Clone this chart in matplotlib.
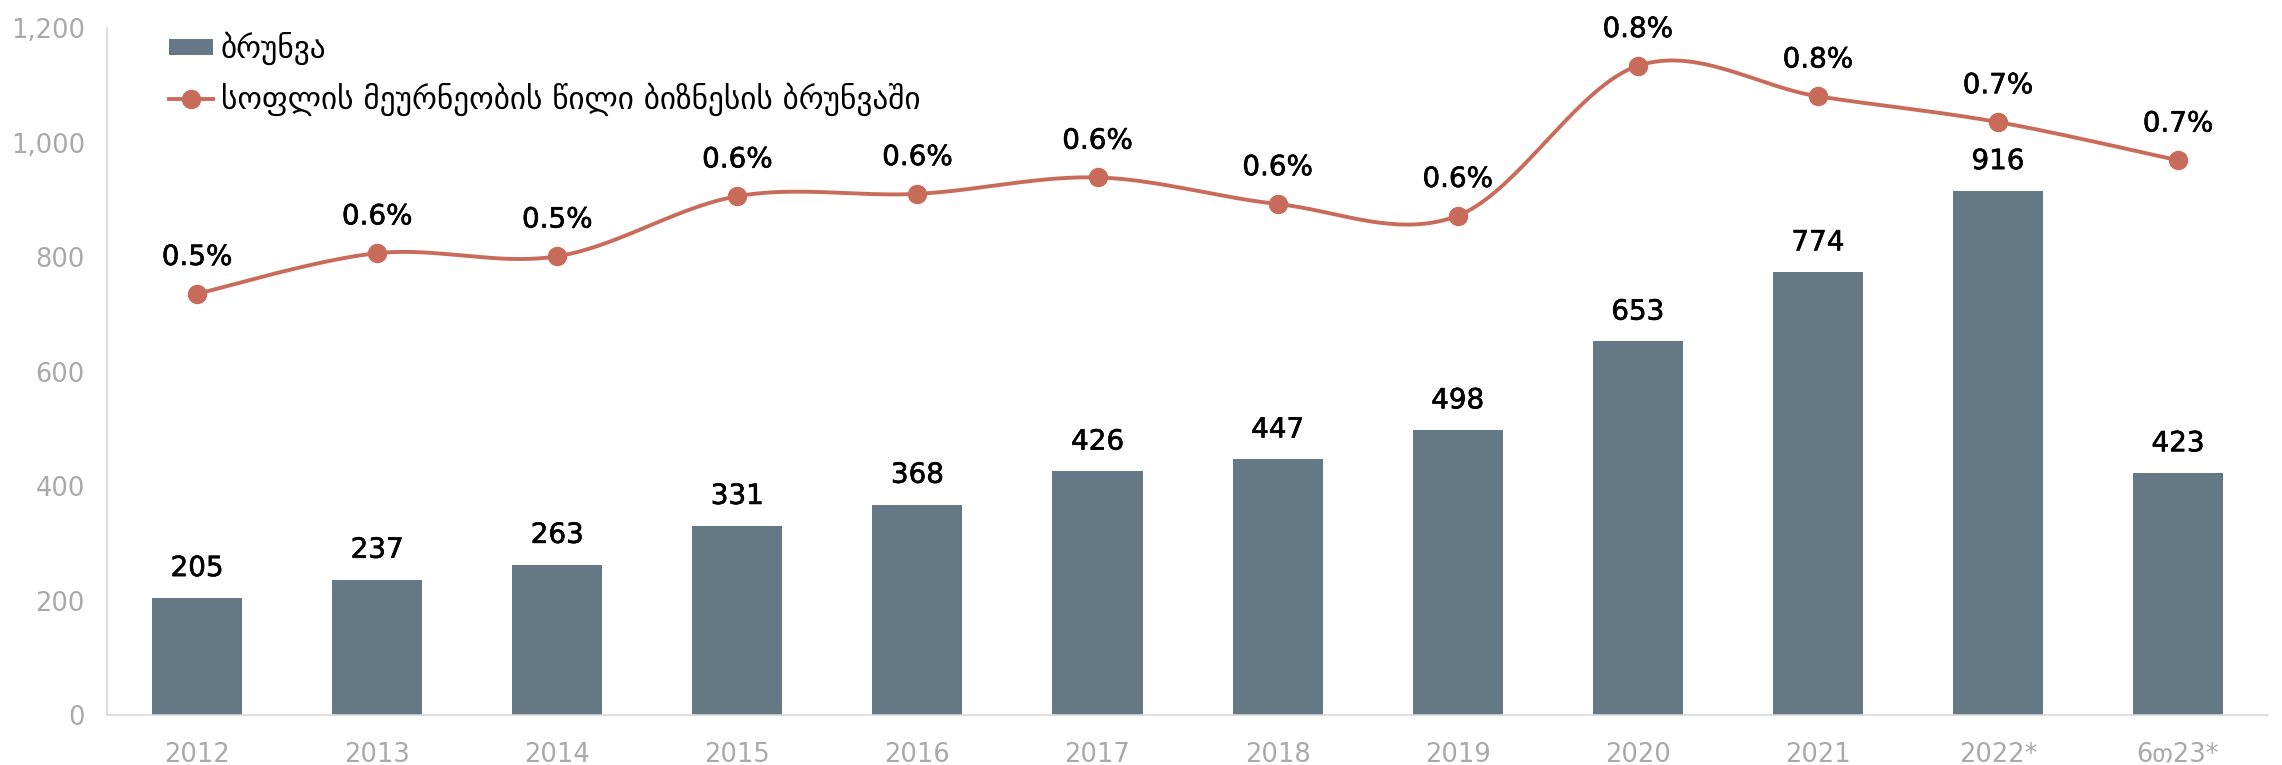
import numpy as np
import matplotlib
matplotlib.use("Agg")
import matplotlib.pyplot as plt
import matplotlib.patheffects as pe
from matplotlib.lines import Line2D
from matplotlib.patches import Patch

# ---- data ----
years = ["2012", "2013", "2014", "2015", "2016", "2017", "2018", "2019",
         "2020", "2021", "2022*", "6თ23*"]
turnover = [205, 237, 263, 331, 368, 426, 447, 498, 653, 774, 916, 423]
share_pct = [0.500, 0.552, 0.548, 0.625, 0.628, 0.649, 0.615, 0.600,
             0.792, 0.753, 0.720, 0.671]
bar_label = "ბრუნვა"
line_label = "სოფლის მეურნეობის წილი ბიზნესის ბრუნვაში"
y_ticks = [0, 200, 400, 600, 800, 1000, 1200]

# ---- style ----
BAR_C = "#647885"
LINE_C = "#C96B5A"
TICK_C = "#A9A9A9"
SPINE_C = "#D9D9D9"
FONT = ["DejaVu Sans"]
MEDIUM = [pe.withStroke(linewidth=0.45, foreground="black")]

fig = plt.figure(figsize=(22.82, 7.65), dpi=100)
ax = fig.add_axes([0.0469, 0.0650, 0.9470, 0.8979])
x = np.arange(len(years))

ax.bar(x, turnover, width=0.5, color=BAR_C, zorder=2)
ax.set_xlim(-0.5, len(years) - 0.5)
ax.set_ylim(0, 1200)
ax.set_yticks(y_ticks)
ax.set_yticklabels([f"{v:,}" for v in y_ticks])
ax.set_xticks(x)
ax.set_xticklabels(years)
for lbl in ax.get_xticklabels() + ax.get_yticklabels():
    lbl.set_family(FONT)
    lbl.set_fontsize(18.5)
    lbl.set_color(TICK_C)
ax.tick_params(axis="both", length=0)
ax.tick_params(axis="x", pad=19)
ax.tick_params(axis="y", pad=16)
for s in ["top", "right"]:
    ax.spines[s].set_visible(False)
for s in ["left", "bottom"]:
    ax.spines[s].set_color(SPINE_C)
    ax.spines[s].set_linewidth(1.2)

for xi, v in zip(x, turnover):
    ax.annotate(f"{v}", (xi, v), xytext=(0, 21.5), textcoords="offset points",
                ha="center", va="center", fontsize=20, path_effects=MEDIUM,
                family=FONT, color="black", zorder=5)

# secondary (hidden) axis for share
ax2 = ax.twinx()
ax2.set_ylim(-0.04, 0.84)
ax2.axis("off")

# Excel-style smoothed line (uniform Catmull-Rom / Bezier)
def smooth(xs, ys, n=40):
    xs = np.asarray(xs, float); ys = np.asarray(ys, float)
    px = np.concatenate([[xs[0]], xs, [xs[-1]]])
    py = np.concatenate([[ys[0]], ys, [ys[-1]]])
    outx, outy = [], []
    t = np.linspace(0, 1, n)
    for i in range(1, len(px) - 2):
        p0 = np.array([px[i], py[i]])
        p3 = np.array([px[i + 1], py[i + 1]])
        c1 = p0 + (np.array([px[i + 1], py[i + 1]]) - np.array([px[i - 1], py[i - 1]])) / 6
        c2 = p3 - (np.array([px[i + 2], py[i + 2]]) - np.array([px[i], py[i]])) / 6
        b = ((1 - t) ** 3)[:, None] * p0 + (3 * (1 - t) ** 2 * t)[:, None] * c1 \
            + (3 * (1 - t) * t ** 2)[:, None] * c2 + (t ** 3)[:, None] * p3
        outx.extend(b[:, 0]); outy.extend(b[:, 1])
    return outx, outy

sx, sy = smooth(x, share_pct)
ax2.plot(sx, sy, color=LINE_C, lw=2.8, zorder=3, solid_capstyle="round")
ax2.plot(x, share_pct, "o", color=LINE_C, markersize=13, zorder=4)
for xi, s in zip(x, share_pct):
    ax2.annotate(f"{s:.1f}%", (xi, s), xytext=(0, 26.5), textcoords="offset points",
                 ha="center", va="center", fontsize=20, path_effects=MEDIUM,
                 family=FONT, color="black", zorder=5)

handles = [Patch(facecolor=BAR_C, edgecolor="none", label=bar_label),
           Line2D([0], [0], color=LINE_C, lw=2.8, marker="o", markersize=13,
                  label=line_label)]
leg = ax.legend(handles=handles, loc="upper left", bbox_to_anchor=(0.0287, 0.995),
                frameon=False, borderpad=0, borderaxespad=0, handlelength=1.4,
                handleheight=0.45, handletextpad=0.25, labelspacing=0.55,
                prop={"family": FONT, "size": 22.5})

fig.savefig("out.png", dpi=100)
